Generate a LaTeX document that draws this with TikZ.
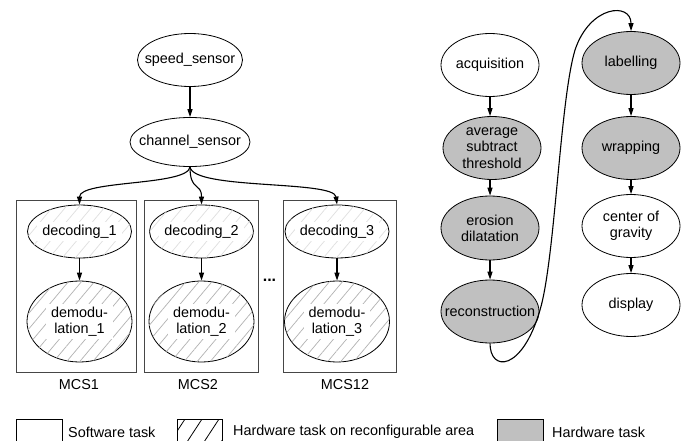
\documentclass[tikz,border=0pt]{standalone}
\usepackage{fontspec}
\setmainfont{Liberation Sans}
\usetikzlibrary{shapes.geometric,arrows.meta,patterns.meta}
\definecolor{hwgray}{RGB}{192,192,192}
\definecolor{boxline}{RGB}{70,70,70}
\tikzset{
  task/.style={ellipse, draw=black, line width=0.8pt, inner sep=0pt},
  sw/.style={task, fill=white},
  hw/.style={task, fill=hwgray},
  rc/.style={task, fill=white, postaction={pattern={Lines[angle=50,distance=10pt,line width=0.7pt]}, pattern color=#1}},
  txt/.style={font=\fontsize{14.4}{16.2}\selectfont, align=center, inner sep=1pt},
  wtxt/.style={txt, fill=white, inner xsep=5pt, inner ysep=3pt},
  mcs/.style={draw=boxline, line width=0.8pt},
  arr/.style={-{Triangle[length=8pt,width=5pt]}, line width=1.1pt},
  legtxt/.style={font=\fontsize{14.4}{16.2}\selectfont, anchor=west, inner sep=0pt}
}
\begin{document}
\begin{tikzpicture}[x=1pt,y=-1pt]
\useasboundingbox (0,0) rectangle (687,441);
% left part
\node[sw, minimum width=105pt, minimum height=53pt] (speed) at (190,60) {};
\node[txt] (speedt) at (speed) {speed\_sensor};
\node[sw, minimum width=120pt, minimum height=49pt] (chan) at (190,142) {};
\node[txt] (chant) at (chan) {channel\_sensor};
\draw[arr] (speed) -- (chan);

% MCS boxes
\node[mcs, minimum width=120pt, minimum height=172pt, inner sep=0pt] (box1) at (76,286) {};
\node[mcs, minimum width=114pt, minimum height=172pt, inner sep=0pt] (box2) at (201,286) {};
\node[mcs, minimum width=113pt, minimum height=172pt, inner sep=0pt] (box3) at (339.5,286) {};
\node[txt] (mcs1) at (79,385) {MCS1};
\node[txt] (mcs2) at (198,385) {MCS2};
\node[txt] (mcs12) at (345,385) {MCS12};

\foreach \i/\x in {1/79.5, 2/201.5, 3/337} {
  \node[rc=gray!25, minimum width=104pt, minimum height=53pt] (dec\i) at (\x,231.5) {};
  \node[wtxt] (dec\i t) at (dec\i) {decoding\_\i};
  \node[rc=gray!60, minimum width=105pt, minimum height=81pt] (dem\i) at (\x,321.5) {};
  \node[wtxt] (dem\i t) at (dem\i) {demodu-\\lation\_\i};
  \draw[arr] (dec\i) -- (dem\i);
}
\node[font=\fontsize{16}{16}\selectfont\bfseries, inner sep=0pt] (dots) at (269.5,280) {...};

\draw[arr] (chan.south) .. controls (188,186) and (79.5,180) .. (dec1.north);
\draw[arr] (chan.south) .. controls (190,192) and (201.5,182) .. (dec2.north);
\draw[arr] (chan.south) .. controls (193,190) and (334,180) .. (dec3.north);

% right part
\node[sw, minimum width=98pt, minimum height=63pt] (acq) at (490,65) {};
\node[txt] (acqt) at (acq) {acquisition};
\node[hw, minimum width=98pt, minimum height=63pt] (avg) at (492,148) {};
\node[txt] (avgt) at (avg) {average\\subtract\\threshold};
\node[hw, minimum width=98pt, minimum height=64pt] (ero) at (490,228) {};
\node[txt] (erot) at (ero) {erosion\\dilatation};
\node[hw, minimum width=98pt, minimum height=63pt] (rec) at (490,311.5) {};
\node[txt] (rect) at (rec) {reconstruction};

\node[hw, minimum width=98pt, minimum height=63pt] (lab) at (631,63) {};
\node[txt] (labt) at (lab) {labelling};
\node[hw, minimum width=98pt, minimum height=63pt] (wrap) at (631,148) {};
\node[txt] (wrapt) at (wrap) {wrapping};
\node[sw, minimum width=98pt, minimum height=63pt] (cog) at (631,226) {};
\node[txt] (cogt) at (cog) {center of\\gravity};
\node[sw, minimum width=98pt, minimum height=63pt] (disp) at (631,305) {};
\node[txt] (dispt) at (disp) {display};

\draw[arr] (acq) -- (acq.south |- avg.north);
\draw[arr] (acq.south |- avg.south) -- (ero);
\draw[arr] (ero) -- (rec);
\draw[arr] (lab) -- (wrap);
\draw[arr] (wrap) -- (cog);
\draw[arr] (cog) -- (disp);
\draw[arr] (rec.south) .. controls (490,372) and (522,372) .. (540,310)
   .. controls (555,260) and (560,100) .. (575,50)
   .. controls (590,5) and (631,2) .. (lab.north);

% legend
\coordinate (l1a) at (16,442); \coordinate (l1b) at (62,442);
\draw[line width=0.8pt] (l1a) -- (16,419) -- (62,419) -- (l1b);
\node[legtxt] (leg1) at (68,432) {Software task};
\begin{scope}
  \clip (177,419) rectangle (222,442);
  \foreach \s in {170,187,204,221} \draw[line width=0.8pt] (\s,442) -- (\s+17,416);
\end{scope}
\draw[line width=0.8pt] (177,442) -- (177,419) -- (222,419) -- (222,442);
\node[legtxt] (leg2) at (233,432) {Hardware task on reconfigurable area};
\fill[hwgray] (497,419) rectangle (543,442);
\draw[line width=0.8pt] (497,442) -- (497,419) -- (543,419) -- (543,442);
\node[legtxt] (leg3) at (552,432) {Hardware task};
\end{tikzpicture}
\end{document}
